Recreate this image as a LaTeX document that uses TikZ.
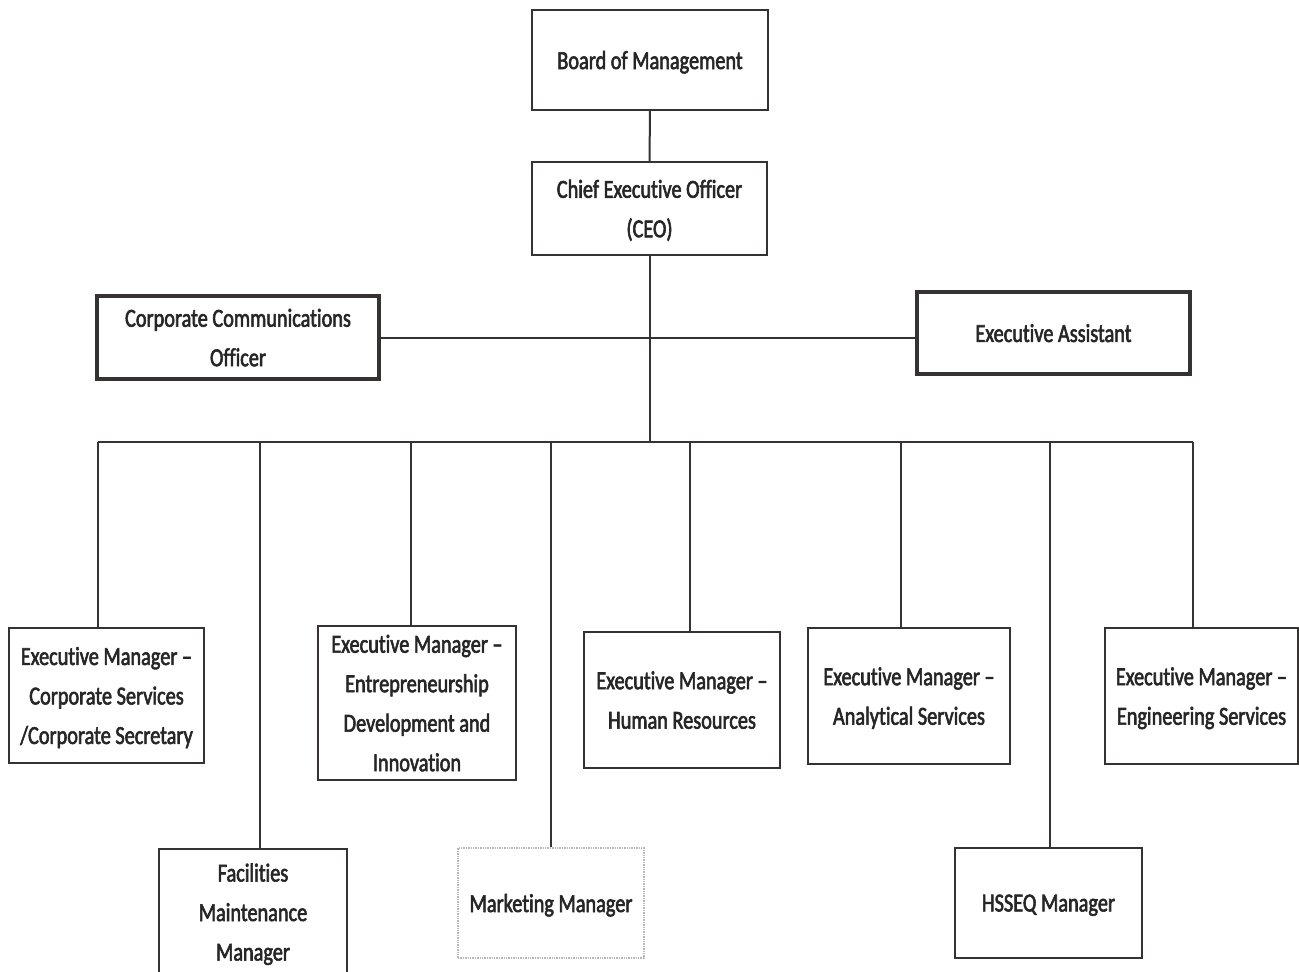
\documentclass[tikz,border=0pt]{standalone}
\usepackage{fontspec}
\setmainfont{Carlito}[FakeStretch=0.78, FakeBold=2.2, Ligatures={NoCommon}]
\usetikzlibrary{positioning}
\definecolor{inkgray}{HTML}{363232}
\tikzset{
  post/.style={draw=inkgray, line width=2pt, fill=white, align=center, inner sep=0pt,
    text=black!85, text depth=-2pt, font=\fontsize{26}{39.5}\selectfont},
  keypost/.style={post, line width=3.8pt},
  faintpost/.style={post, draw=black!28, line width=1.4pt, densely dotted},
  link/.style={draw=inkgray, line width=2pt}
}
\begin{document}
\begin{tikzpicture}[x=1pt,y=-1pt]
            \fill [white] (0,0) rectangle (1299,972);
            \useasboundingbox (0,0) rectangle (1299,972);
            \node [post, minimum width=236, minimum height=100] (board) at (650,60) {Board of Management};
            \node [post, minimum width=235, minimum height=93] (ceo) at (649.5,208.5) {Chief Executive Officer\\(CEO)};
            \node [keypost, minimum width=282, minimum height=83] (comms) at (238,337.5) {Corporate Communications\\Officer};
            \node [keypost, minimum width=273, minimum height=82] (assist) at (1053.5,333) {Executive Assistant};
            \node [post, minimum width=195, minimum height=135] (cs) at (106.5,695.5) {Executive Manager –\\Corporate Services\\/Corporate Secretary};
            \node [post, minimum width=198, minimum height=154] (edi) at (417,703) {Executive Manager –\\Entrepreneurship\\Development and\\Innovation};
            \node [post, minimum width=196, minimum height=136] (hr) at (682,700) {Executive Manager –\\Human Resources};
            \node [post, minimum width=202, minimum height=136] (an) at (909,696) {Executive Manager –\\Analytical Services};
            \node [post, minimum width=193, minimum height=136] (eng) at (1201.5,696) {Executive Manager –\\Engineering Services};
            \node [post, minimum width=188, minimum height=126] (fac) at (253,912) {Facilities\\Maintenance\\Manager};
            \node [faintpost, minimum width=186, minimum height=110] (mkt) at (551,903) {Marketing Manager};
            \node [post, minimum width=187, minimum height=110] (hsseq) at (1048.5,903) {HSSEQ Manager};
            \coordinate (busL) at (98,442);
            \coordinate (busR) at (1193,442);
            \draw [link] (board) -- (ceo);
            \draw [link] (ceo.south) -- (ceo.south |- busL);
            \draw [link] (comms.east) -- (comms.east -| assist.west);
            \draw [link] (busL) -- (busR);
            \foreach \x/\n in {98/cs, 260/fac, 411/edi, 551/mkt, 690/hr, 901/an, 1050/hsseq, 1193/eng} {
              \coordinate (d\n) at (\x,442);
              \draw [link] (d\n) -- (d\n |- \n.north);
            }
\end{tikzpicture}
\end{document}
